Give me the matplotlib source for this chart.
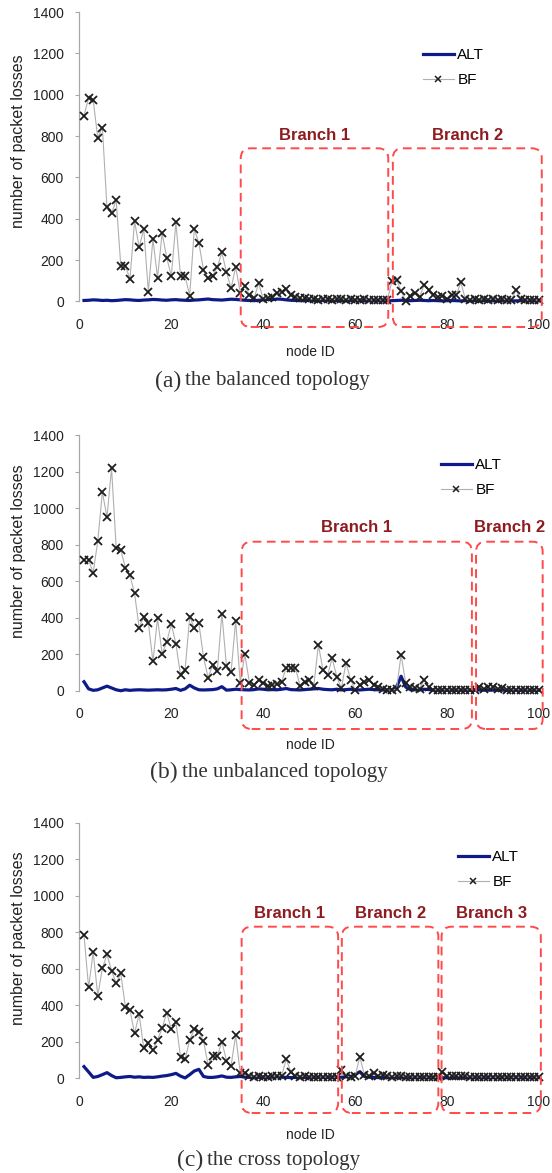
import matplotlib
matplotlib.use("Agg")
import matplotlib.pyplot as plt
from matplotlib.patches import FancyBboxPatch
from matplotlib.lines import Line2D
from matplotlib.transforms import IdentityTransform

W, H, DPI = 552, 1173, 100

node_ids = list(range(1, 101))
xticks = [0, 20, 40, 60, 80, 100]
yticks = [0, 200, 400, 600, 800, 1000, 1200, 1400]

# ---------------- (a) balanced topology ----------------
bf_a = [898, 985, 973, 792, 841, 455, 426, 491, 174, 174,
        108, 389, 262, 351, 48, 302, 116, 330, 212, 124,
        383, 121, 121, 29, 351, 282, 153, 113, 124, 166,
        237, 142, 64, 166, 43, 76, 32, 15, 89, 11,
        19, 24, 40, 48, 60, 30, 22, 15, 18, 10,
        12, 8, 10, 12, 8, 10, 14, 8, 10, 8,
        6, 10, 8, 6, 8, 5, 6, 98, 105, 51,
        2, 27, 40, 20, 80, 56, 32, 20, 25, 12,
        30, 32, 92, 10, 8, 12, 6, 10, 8, 14,
        8, 10, 6, 8, 56, 10, 6, 8, 5, 6]
alt_a = [5, 6, 8, 7, 5, 6, 4, 5, 7, 9,
         8, 6, 5, 7, 8, 10, 9, 7, 6, 8,
         9, 7, 6, 5, 7, 8, 10, 12, 9, 8,
         7, 9, 11, 10, 8, 6, 5, 4, 6, 8,
         10, 9, 12, 11, 8, 6, 5, 4, 5, 6,
         5, 4, 5, 6, 4, 5, 4, 3, 4, 5,
         4, 3, 4, 3, 4, 3, 3, 4, 5, 6,
         5, 4, 5, 6, 5, 4, 5, 4, 3, 4,
         5, 4, 3, 4, 3, 4, 3, 4, 3, 3,
         4, 3, 4, 3, 3, 4, 3, 3, 3, 3]
branches_a = [("Branch 1", 35.1, 67.2), ("Branch 2", 68.2, 100.6)]

# ---------------- (b) unbalanced topology ----------------
bf_b = [715, 715, 647, 820, 1088, 950, 1218, 784, 769, 674,
        631, 533, 346, 405, 373, 160, 396, 202, 268, 364,
        256, 85, 115, 405, 342, 368, 184, 72, 139, 108,
        422, 135, 103, 382, 43, 200, 43, 31, 58, 40,
        25, 31, 34, 49, 126, 126, 126, 27, 49, 58,
        27, 252, 112, 85, 178, 76, 13, 153, 61, 5,
        31, 49, 61, 31, 22, 7, 3, 4, 10, 198,
        40, 22, 13, 10, 61, 22, 6, 5, 5, 5,
        5, 5, 5, 5, 5, 5, 22, 10, 18, 20,
        12, 14, 6, 5, 5, 5, 5, 5, 5, 5]
alt_b = [49, 10, 2, 5, 15, 25, 15, 5, 0, 5,
         2, 4, 5, 4, 3, 4, 5, 4, 5, 8,
         12, 2, 10, 30, 15, 5, 4, 5, 6, 10,
         22, 3, 5, 8, 6, 5, 4, 6, 10, 8,
         5, 6, 5, 8, 12, 6, 5, 4, 6, 8,
         10, 12, 8, 6, 5, 8, 4, 6, 8, 5,
         4, 6, 8, 6, 5, 4, 3, 5, 20, 79,
         20, 6, 5, 4, 8, 6, 4, 3, 3, 3,
         3, 3, 3, 3, 3, 3, 4, 3, 3, 3,
         3, 3, 3, 3, 3, 3, 3, 3, 3, 3]
branches_b = [("Branch 1", 35.3, 85.4), ("Branch 2", 86.3, 100.8)]

# ---------------- (c) cross topology ----------------
bf_c = [785, 498, 690, 453, 602, 679, 589, 520, 575, 392,
        374, 246, 350, 164, 192, 155, 210, 274, 360, 268,
        307, 119, 104, 210, 268, 252, 206, 73, 122, 122,
        201, 97, 68, 237, 27, 27, 10, 8, 10, 6,
        8, 10, 12, 15, 104, 36, 10, 8, 10, 6,
        8, 6, 8, 6, 6, 6, 46, 15, 5, 10,
        119, 20, 12, 31, 15, 18, 10, 8, 12, 10,
        8, 6, 8, 6, 6, 5, 5, 5, 36, 10,
        12, 14, 12, 10, 8, 6, 8, 6, 5, 5,
        6, 5, 5, 5, 5, 5, 5, 5, 5, 5]
alt_c = [64, 35, 5, 10, 20, 31, 15, 3, 5, 8,
         10, 6, 8, 5, 6, 5, 8, 12, 15, 20,
         27, 12, 2, 20, 40, 49, 10, 5, 5, 8,
         13, 6, 5, 8, 10, 6, 5, 4, 5, 6,
         5, 6, 8, 6, 5, 4, 5, 4, 5, 4,
         4, 5, 4, 5, 4, 5, 6, 8, 10, 20,
         36, 10, 6, 5, 4, 4, 3, 4, 3, 4,
         3, 3, 3, 4, 3, 3, 3, 3, 3, 3,
         3, 3, 3, 3, 3, 3, 3, 3, 3, 3,
         3, 3, 3, 3, 3, 3, 3, 3, 3, 3]
branches_c = [("Branch 1", 35.3, 56.3), ("Branch 2", 57.1, 78.1),
              ("Branch 3", 78.8, 100.4)]

panels = [
    dict(bf=bf_a, alt=alt_a, branches=branches_a, top=12.0, bottom=301.5,
         box_top=148.3, box_bot=327.0, lab_y=136.0,
         leg=(423, 48), ylab_y=141.5, xlab_y=352.0, cap_y=381.0,
         cap=("(a)", "the balanced topology"), cap_x=(181, 185)),
    dict(bf=bf_b, alt=alt_b, branches=branches_b, top=435.0, bottom=690.7,
         box_top=541.7, box_bot=729.0, lab_y=528.0,
         leg=(441, 458), ylab_y=551.5, xlab_y=745.0, cap_y=772.0,
         cap=("(b)", "the unbalanced topology"), cap_x=(178, 182)),
    dict(bf=bf_c, alt=alt_c, branches=branches_c, top=822.8, bottom=1078.3,
         box_top=926.7, box_bot=1113.0, lab_y=914.0,
         leg=(458, 850), ylab_y=938.0, xlab_y=1135.0, cap_y=1160.0,
         cap=("(c)", "the cross topology"), cap_x=(203, 207)),
]

SANS = ["Liberation Sans", "DejaVu Sans"]
SERIF = ["Liberation Serif", "DejaVu Serif"]
ALT_C = "#0d1a8a"
BOX_C = "#ff4a4a"
LAB_C = "#8e1b1f"
TXT_C = "#222222"

fig = plt.figure(figsize=(W / DPI, H / DPI), dpi=DPI)
fig.patch.set_facecolor("white")

AX_L, AX_R = 79.4, 540.0
X0, X1 = 0.0, (AX_R - AX_L) / 4.596

for p in panels:
    ax = fig.add_axes([AX_L / W, 1 - p["bottom"] / H,
                       (AX_R - AX_L) / W, (p["bottom"] - p["top"]) / H])
    ax.set_xlim(X0, X1)
    ax.set_ylim(0, 1400)
    for s in ("top", "right", "bottom"):
        ax.spines[s].set_visible(False)
    ax.spines["left"].set_color("#a8a8a8")
    ax.spines["left"].set_linewidth(0.9)
    ax.set_xticks(xticks)
    ax.set_yticks(yticks)
    ax.tick_params(axis="y", length=2.7, width=0.8, color="#a8a8a8", pad=8.5,
                   labelsize=10, labelcolor=TXT_C)
    ax.tick_params(axis="x", length=0, pad=12, labelsize=10, labelcolor=TXT_C)
    for lab in ax.get_xticklabels() + ax.get_yticklabels():
        lab.set_family(SANS)

    ax.plot(node_ids, p["alt"], color=ALT_C, lw=2.3, clip_on=False, zorder=3,
            solid_joinstyle="round")
    ax.plot(node_ids, p["bf"], color="#b0b0b0", lw=0.8, marker="x", ms=5.5,
            mec="#1e1e1e", mew=1.3, clip_on=False, zorder=4)

    # legend
    handles = [Line2D([], [], color=ALT_C, lw=2.3),
               Line2D([], [], color="#b0b0b0", lw=0.8, marker="x", ms=4.5,
                      mec="#1e1e1e", mew=1.1)]
    ax.legend(handles, ["ALT", "BF"], loc="upper left",
              bbox_to_anchor=(p["leg"][0] / W, 1 - p["leg"][1] / H),
              bbox_transform=fig.transFigure, frameon=False, borderpad=0,
              borderaxespad=0, handlelength=2.0, handletextpad=0.25,
              labelspacing=0.75, prop=dict(family=SANS, size=11))

    # labels
    fig.text(18.5 / W, 1 - p["ylab_y"] / H, "number of packet losses",
             rotation=90, ha="center", va="center", fontsize=11.5,
             family=SANS, color=TXT_C)
    fig.text(310 / W, 1 - p["xlab_y"] / H, "node ID", ha="center",
             va="center", fontsize=10, family=SANS, color=TXT_C)
    fig.text(p["cap_x"][0] / W, 1 - p["cap_y"] / H, p["cap"][0], ha="right",
             va="center", fontsize=17, family=SERIF, color="#333333")
    fig.text(p["cap_x"][1] / W, 1 - p["cap_y"] / H, p["cap"][1], ha="left",
             va="center", fontsize=15, family=SERIF, color="#333333")

    # branch boxes (drawn in pixel space for round corners)
    fig.canvas.draw()
    for name, b0, b1 in p["branches"]:
        x0 = ax.transData.transform((b0, 0))[0]
        x1 = ax.transData.transform((b1, 0))[0]
        y_top = H - p["box_top"]
        y_bot = H - p["box_bot"]
        box = FancyBboxPatch((x0, y_bot), x1 - x0, y_top - y_bot,
                             boxstyle="round,pad=0,rounding_size=10",
                             transform=IdentityTransform(), fill=False,
                             edgecolor=BOX_C, lw=1.4, ls=(0, (4.5, 2.8)),
                             zorder=10)
        fig.add_artist(box)
        fig.text((x0 + x1) / 2 / W, 1 - p["lab_y"] / H, name, ha="center",
                 va="center", fontsize=12, fontweight="bold", family=SANS,
                 color=LAB_C)

fig.savefig("out.png", dpi=DPI, facecolor="white")
